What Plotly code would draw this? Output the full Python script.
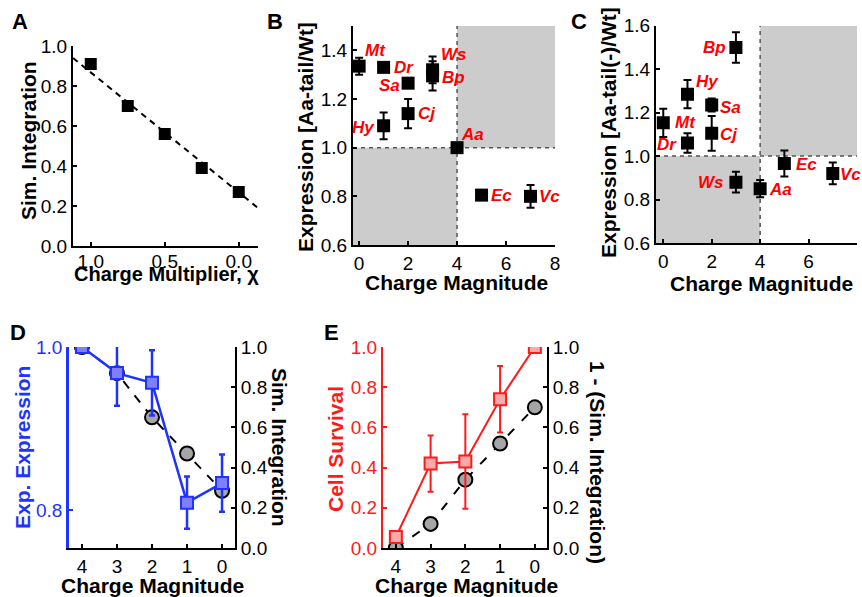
import plotly.graph_objects as go

W, H = 862, 597
FONT = "Liberation Sans, Arial, sans-serif"

# ---------------- data ----------------
# Panel A
a_x = [1.0, 0.75, 0.5, 0.25, 0.0]
a_y = [0.91, 0.70, 0.56, 0.39, 0.27]
a_fit_x = [1.12, -0.13]
a_fit_y = [0.94, 0.19]

# Panel B
b_names = ["Mt", "Dr", "Sa", "Ws", "Bp", "Cj", "Hy", "Aa", "Ec", "Vc"]
b_x = [0, 1, 2, 3, 3, 2, 1, 4, 5, 7]
b_y = [1.335, 1.33, 1.265, 1.32, 1.295, 1.14, 1.09, 1.0, 0.805, 0.80]
b_err = [0.035, 0.01, 0.01, 0.055, 0.06, 0.06, 0.055, 0.0, 0.02, 0.047]
b_thresh_x = 4
b_thresh_y = 1.0

# Panel C
c_names = ["Bp", "Hy", "Sa", "Mt", "Cj", "Dr", "Ws", "Aa", "Ec", "Vc"]
c_x = [3, 1, 2, 0, 2, 1, 3, 4, 5, 7]
c_y = [1.50, 1.285, 1.235, 1.153, 1.105, 1.06, 0.88, 0.85, 0.966, 0.92]
c_err = [0.07, 0.065, 0.03, 0.065, 0.08, 0.045, 0.048, 0.04, 0.06, 0.05]
c_thresh_x = 4
c_thresh_y = 1.0

# Panel D
d_x = [4, 3, 2, 1, 0]
d_expr = [1.0, 0.968, 0.956, 0.809, 0.833]
d_expr_err = [0.0, 0.04, 0.04, 0.032, 0.035]
d_sim = [1.0, 0.87, 0.65, 0.47, 0.285]

# Panel E
e_x = [4, 3, 2, 1, 0]
e_surv = [0.055, 0.42, 0.43, 0.74, 1.0]
e_surv_err = [0.0, 0.14, 0.235, 0.165, 0.0]
e_sim = [0.0, 0.12, 0.34, 0.52, 0.70]

# label offsets (pixels) - style only
b_off = {"Mt": (16, 16), "Dr": (20, 0), "Sa": (-19, -2), "Ws": (21, 15), "Bp": (21, -2),
         "Cj": (19, 0), "Hy": (-20, -2), "Aa": (15, 13), "Ec": (20, 0), "Vc": (19, 0)}
c_off = {"Bp": (-21, 0), "Hy": (20, 13), "Sa": (19, -2), "Mt": (22, 0), "Cj": (17, -1),
         "Dr": (-20, -1), "Ws": (-25, 0), "Aa": (20, -1), "Ec": (22, -1), "Vc": (18, -1)}

BLUE = "#1f33ff"
BLUE_FILL = "#7f7fff"
RED = "#ff1a1a"
PINK = "#f7aaaa"
GRAY = "#a6a6a6"
SHADE = "#cccccc"


def dx(p0, p1):
    return [p0 / W, p1 / W]


def dy(top, bottom):
    return [1 - bottom / H, 1 - top / H]


def ax(**kw):
    base = dict(showgrid=False, zeroline=False, showline=True, linecolor="black",
                linewidth=2, ticks="inside", ticklen=4, tickwidth=1.5, tickcolor="black",
                automargin=False,
                tickfont=dict(size=19, color="black", family=FONT))
    base.update(kw)
    return base


fig = go.Figure()

# ---- Panel A ----
fig.add_trace(go.Scatter(x=a_fit_x, y=a_fit_y, mode="lines", xaxis="x", yaxis="y",
                         line=dict(color="black", width=2, dash="6px,5px")))
fig.add_trace(go.Scatter(x=a_x, y=a_y, mode="markers", xaxis="x", yaxis="y",
                         marker=dict(symbol="square", size=12, color="black")))

# ---- Panel B ----
fig.add_trace(go.Scatter(x=b_x, y=b_y, mode="markers", xaxis="x2", yaxis="y2",
                         marker=dict(symbol="square", size=13, color="black"),
                         error_y=dict(type="data", array=b_err, color="black",
                                      thickness=2, width=4)))
# ---- Panel C ----
fig.add_trace(go.Scatter(x=c_x, y=c_y, mode="markers", xaxis="x3", yaxis="y3",
                         marker=dict(symbol="square", size=13, color="black"),
                         error_y=dict(type="data", array=c_err, color="black",
                                      thickness=2, width=4)))

# ---- Panel D ---- (sim on base right axis y4, expression on overlaying y5)
fig.add_trace(go.Scatter(x=d_x, y=d_sim, mode="lines+markers", xaxis="x4", yaxis="y4",
                         line=dict(color="black", width=2, dash="9px,9px"),
                         marker=dict(symbol="circle", size=14, color=GRAY,
                                     line=dict(color="black", width=2))))
fig.add_trace(go.Scatter(x=d_x, y=d_expr, mode="lines+markers", xaxis="x4", yaxis="y5",
                         line=dict(color=BLUE, width=2.5),
                         marker=dict(symbol="square", size=12, color=BLUE_FILL,
                                     line=dict(color=BLUE, width=2)),
                         error_y=dict(type="data", array=d_expr_err, color=BLUE,
                                      thickness=2.5, width=3)))

# ---- Panel E ---- (sim on base right axis y6, survival on overlaying y7)
fig.add_trace(go.Scatter(x=e_x, y=e_sim, mode="lines+markers", xaxis="x5", yaxis="y6",
                         line=dict(color="black", width=2, dash="9px,11px"),
                         marker=dict(symbol="circle", size=14, color=GRAY,
                                     line=dict(color="black", width=2))))
fig.add_trace(go.Scatter(x=e_x, y=e_surv, mode="lines+markers", xaxis="x5", yaxis="y7",
                         line=dict(color=RED, width=2),
                         marker=dict(symbol="square", size=12, color=PINK,
                                     line=dict(color=RED, width=2)),
                         error_y=dict(type="data", array=e_surv_err, color=RED,
                                      thickness=2, width=3)))

shapes = []
# shading + dashed thresholds for B and C
for xr, yr, tx, ty, ylo, yhi, xlo, xhi in [
    ("x2", "y2", b_thresh_x, b_thresh_y, 0.6, 1.5, -0.25, 8),
    ("x3", "y3", c_thresh_x, c_thresh_y, 0.6, 1.6, -0.3, 8),
]:
    shapes.append(dict(type="rect", xref=xr, yref=yr, x0=xlo, x1=tx, y0=ylo, y1=ty,
                       fillcolor=SHADE, line=dict(width=0), layer="below"))
    shapes.append(dict(type="rect", xref=xr, yref=yr, x0=tx, x1=xhi, y0=ty, y1=yhi,
                       fillcolor=SHADE, line=dict(width=0), layer="below"))
    shapes.append(dict(type="line", xref=xr, yref=yr, x0=tx, x1=tx, y0=ylo, y1=yhi,
                       line=dict(color="#555555", width=1.5, dash="4px,4px"), layer="below"))
    shapes.append(dict(type="line", xref=xr, yref=yr, x0=xlo, x1=xhi, y0=ty, y1=ty,
                       line=dict(color="#555555", width=1.5, dash="4px,4px"), layer="below"))

annotations = []


def lab(xr, yr, x, y, name, off):
    annotations.append(dict(xref=xr, yref=yr, x=x, y=y, xshift=off[0], yshift=off[1],
                            text=f"<b><i>{name}</i></b>", showarrow=False,
                            font=dict(size=17, color="#ff0000", family=FONT)))


for n, x, y in zip(b_names, b_x, b_y):
    lab("x2", "y2", x, y, n, b_off[n])
for n, x, y in zip(c_names, c_x, c_y):
    lab("x3", "y3", x, y, n, c_off[n])


def ptxt(text, xp, yp, angle=0, color="black", size=21):
    annotations.append(dict(xref="paper", yref="paper", x=xp / W, y=1 - yp / H,
                            text=f"<b>{text}</b>", showarrow=False, textangle=angle,
                            xanchor="center", yanchor="middle",
                            font=dict(size=size, color=color, family=FONT)))


# panel letters
ptxt("A", 20, 22, size=22)
ptxt("B", 275, 22, size=22)
ptxt("C", 579, 21, size=22)
ptxt("D", 18, 332, size=22)
ptxt("E", 331, 332, size=22)

# axis titles
ptxt("Sim. Integration", 28, 141, angle=-90)
ptxt("Charge Multiplier, \u03c7", 166, 274, size=20)
ptxt("Expression [Aa-tail/Wt]", 305, 137, angle=-90)
ptxt("Charge Magnitude", 456, 282)
ptxt("Expression [Aa-tail(-)/Wt]", 608, 133, angle=-90)
ptxt("Charge Magnitude", 761, 283)
ptxt("Exp. Expression", 22, 448, angle=-90, color=BLUE)
ptxt("Sim. Integration", 280, 447, angle=90)
ptxt("Charge Magnitude", 152, 585)
ptxt("Cell Survival", 335, 449, angle=-90, color=RED)
ptxt("1 - (Sim. Integration)", 598, 462, angle=90)
ptxt("Charge Magnitude", 466, 585)

fmt1 = ".1f"
fig.update_layout(
    template="none",
    width=W, height=H, margin=dict(l=0, r=0, t=0, b=0, pad=0, autoexpand=False),
    paper_bgcolor="white", plot_bgcolor="rgba(0,0,0,0)", showlegend=False,
    font=dict(family=FONT, color="black"),
    shapes=shapes, annotations=annotations,
    # A
    xaxis=ax(domain=dx(73, 258), range=[1.12, -0.13], anchor="y",
             tickvals=[1.0, 0.5, 0.0], tickformat=fmt1, ticklabelstandoff=-3),
    yaxis=ax(domain=dy(46, 246), range=[0, 1.0], anchor="x",
             tickvals=[0, 0.2, 0.4, 0.6, 0.8, 1.0], tickformat=fmt1),
    # B
    xaxis2=ax(domain=dx(353, 555), range=[-0.25, 8], anchor="y2",
              tickvals=[0, 2, 4, 6, 8]),
    yaxis2=ax(domain=dy(26, 245), range=[0.6, 1.5], anchor="x2",
              tickvals=[0.6, 0.8, 1.0, 1.2, 1.4], tickformat=fmt1),
    # C
    xaxis3=ax(domain=dx(656, 857), range=[-0.3, 8], anchor="y3",
              tickvals=[0, 2, 4, 6, 8]),
    yaxis3=ax(domain=dy(25.7, 243), range=[0.6, 1.6], anchor="x3",
              tickvals=[0.6, 0.8, 1.0, 1.2, 1.4, 1.6], tickformat=fmt1),
    # D
    xaxis4=ax(domain=dx(69, 235), range=[4.37, -0.37], anchor="y4",
              tickvals=[4, 3, 2, 1, 0]),
    yaxis4=ax(domain=dy(347, 548), range=[0, 1.0], anchor="x4", side="right",
              tickvals=[0, 0.2, 0.4, 0.6, 0.8, 1.0], tickformat=fmt1),
    yaxis5=ax(range=[0.7534, 1.0], anchor="x4", overlaying="y4", side="left",
              tickvals=[0.8, 1.0], tickformat=fmt1, linecolor=BLUE, tickcolor=BLUE,
              linewidth=2.5, tickfont=dict(size=19, color=BLUE, family=FONT)),
    # E
    xaxis5=ax(domain=dx(383, 547), range=[4.37, -0.35], anchor="y6",
              tickvals=[4, 3, 2, 1, 0]),
    yaxis6=ax(domain=dy(347, 548), range=[0, 1.0], anchor="x5", side="right",
              tickvals=[0, 0.2, 0.4, 0.6, 0.8, 1.0], tickformat=fmt1),
    yaxis7=ax(range=[0, 1.0], anchor="x5", overlaying="y6", side="left",
              tickvals=[0, 0.2, 0.4, 0.6, 0.8, 1.0], tickformat=fmt1,
              linecolor=RED, tickcolor=RED,
              tickfont=dict(size=19, color=RED, family=FONT)),
)

fig.write_html("out.html", config={"displayModeBar": False},
               post_script="document.body.style.margin='0px';document.body.style.overflow='hidden';")
